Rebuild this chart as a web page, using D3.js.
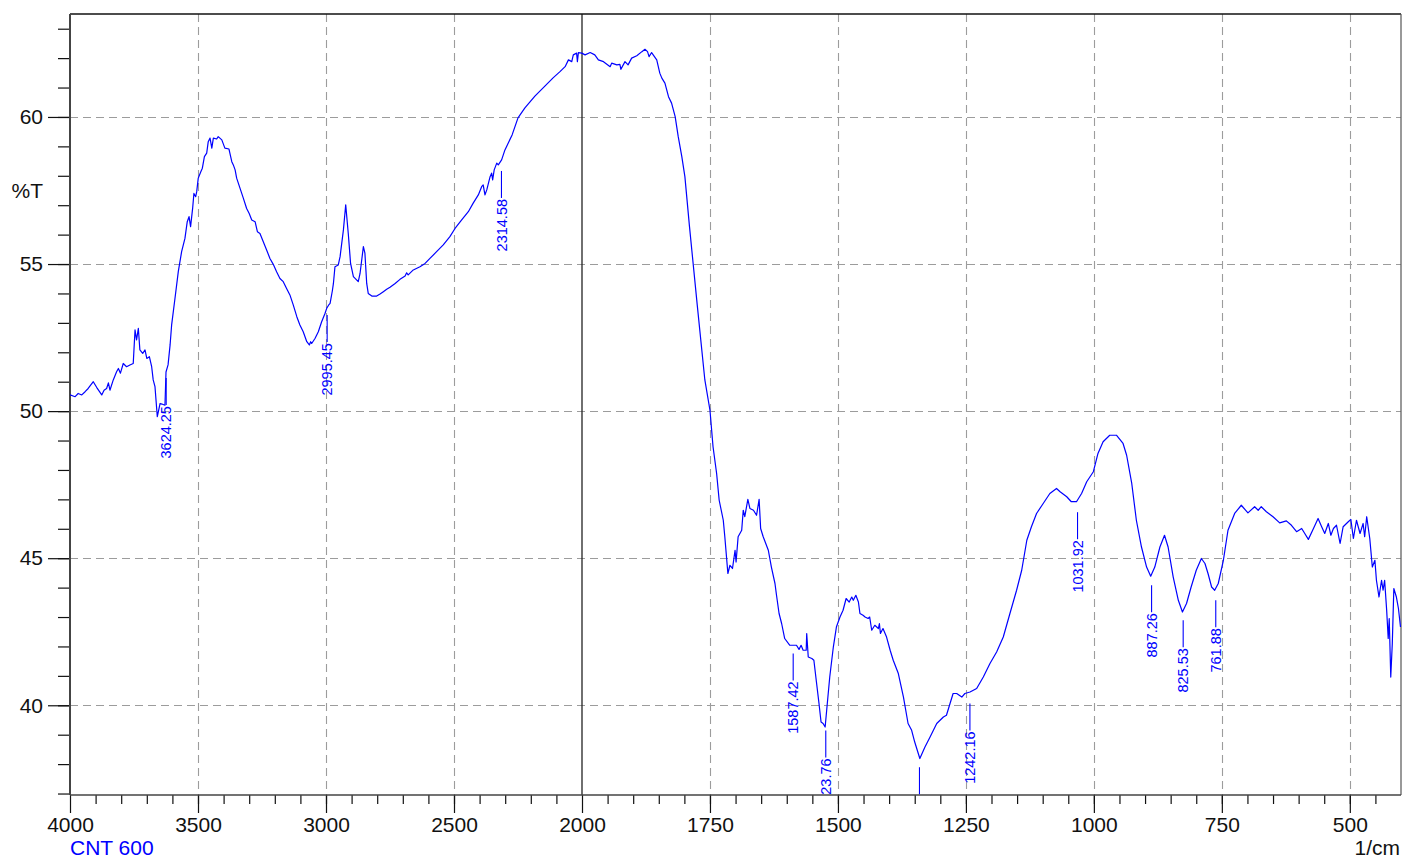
<!DOCTYPE html>
<html>
<head>
<meta charset="utf-8">
<script src="https://cdn.jsdelivr.net/npm/d3@7/dist/d3.min.js"></script>
<style>
  body { margin: 0; background: #fff; }
  svg { display: block; }
  text { font-family: "Liberation Sans", Arial, sans-serif; }
</style>
</head>
<body>
<svg id="chart" width="1402" height="858"></svg>
<script>
// FTIR spectrum of sample CNT 600 as [wavenumber (1/cm), transmittance (%T)] pairs
const spectrumHigh = [ // 4000 - 2000 1/cm
  [4000, 50.55], [3980, 50.49], [3968, 50.60], [3954, 50.55], [3941, 50.66], [3929, 50.77], [3909, 51.00],
  [3896, 50.81], [3876, 50.55], [3867, 50.71], [3857, 50.77], [3850, 50.96], [3844, 50.71], [3831, 51.06],
  [3818, 51.34], [3811, 51.45], [3803, 51.29], [3792, 51.62], [3779, 51.51], [3766, 51.57], [3753, 51.62],
  [3746, 52.76], [3740, 52.42], [3733, 52.81], [3727, 52.08], [3716, 51.96], [3707, 52.08], [3700, 51.79],
  [3690, 51.85], [3681, 51.51], [3675, 51.06], [3668, 50.83], [3659, 49.81], [3648, 50.26], [3641, 50.24],
  [3629, 50.20], [3625, 51.33], [3617, 51.57], [3609, 52.25], [3603, 52.93], [3590, 53.83], [3577, 54.74],
  [3564, 55.42], [3551, 55.87], [3542, 56.44], [3535, 56.61], [3529, 56.27], [3521, 56.89], [3516, 57.40],
  [3509, 57.29], [3505, 57.46], [3499, 57.92], [3489, 58.14], [3483, 58.26], [3475, 58.65], [3466, 58.77],
  [3460, 59.16], [3453, 59.28], [3446, 58.94], [3440, 59.28], [3427, 59.25], [3421, 59.33], [3407, 59.22],
  [3395, 58.94], [3379, 58.91], [3368, 58.48], [3362, 58.37], [3355, 58.20], [3349, 57.92], [3336, 57.58],
  [3323, 57.24], [3310, 56.89], [3300, 56.72], [3290, 56.50], [3277, 56.44], [3268, 56.10], [3258, 56.04],
  [3245, 55.76], [3232, 55.48], [3219, 55.19], [3206, 54.99], [3193, 54.74], [3180, 54.51], [3167, 54.40],
  [3154, 54.17], [3141, 53.95], [3128, 53.61], [3114, 53.21], [3102, 52.93], [3089, 52.70], [3075, 52.36],
  [3065, 52.25], [3060, 52.36], [3056, 52.30], [3043, 52.47], [3030, 52.70], [3017, 53.04], [3004, 53.32],
  [2997, 53.50], [2990, 53.60], [2984, 53.66], [2975, 54.10], [2971, 54.34], [2965, 54.91], [2952, 54.97],
  [2945, 55.25], [2932, 56.16], [2923, 57.01], [2913, 56.04], [2904, 55.02], [2893, 54.57], [2874, 54.40],
  [2867, 54.68], [2854, 55.59], [2848, 55.37], [2841, 54.34], [2835, 54.00], [2821, 53.91], [2802, 53.91],
  [2789, 53.98], [2776, 54.06], [2763, 54.14], [2750, 54.21], [2730, 54.34], [2711, 54.48], [2691, 54.59],
  [2685, 54.70], [2679, 54.63], [2659, 54.80], [2633, 54.91], [2613, 55.02], [2594, 55.19], [2568, 55.42],
  [2542, 55.65], [2516, 55.93], [2496, 56.21], [2470, 56.50], [2444, 56.78], [2425, 57.07], [2405, 57.35],
  [2392, 57.63], [2386, 57.69], [2379, 57.35], [2372, 57.52], [2359, 57.97], [2353, 58.09], [2349, 57.86],
  [2343, 58.20], [2333, 58.43], [2327, 58.37], [2314, 58.54], [2301, 58.88], [2273, 59.39], [2250, 59.97],
  [2223, 60.31], [2184, 60.71], [2145, 61.05], [2113, 61.33], [2086, 61.54], [2066, 61.71], [2053, 61.94],
  [2040, 61.88], [2034, 62.11], [2021, 62.17], [2018, 61.88], [2014, 62.19], [2001, 62.17]
];
const spectrumMid = [ // 2000 - 1000 1/cm
  [1994, 62.11], [1984, 62.19], [1975, 62.11], [1968, 61.94], [1958, 61.88], [1945, 61.71], [1942, 61.83],
  [1932, 61.77], [1926, 61.79], [1924, 61.62], [1916, 61.88], [1910, 61.77], [1903, 62.00], [1893, 62.08],
  [1883, 62.22], [1877, 62.30], [1872, 62.22], [1869, 62.05], [1864, 62.19], [1854, 61.94], [1848, 61.49],
  [1844, 61.32], [1838, 61.15], [1831, 60.69], [1825, 60.47], [1818, 60.01], [1812, 59.33], [1805, 58.65],
  [1799, 57.97], [1790, 56.27], [1775, 53.63], [1760, 51.06], [1750, 50.03], [1744, 48.79], [1737, 47.88],
  [1732, 46.97], [1724, 46.29], [1721, 45.73], [1715, 44.48], [1711, 44.76], [1706, 44.65], [1701, 45.27],
  [1699, 44.87], [1695, 45.73], [1688, 45.95], [1685, 46.63], [1682, 46.41], [1676, 47.00], [1672, 46.69],
  [1665, 46.63], [1659, 46.46], [1654, 47.00], [1651, 46.01], [1646, 45.73], [1636, 45.27], [1630, 44.70],
  [1623, 44.14], [1620, 43.74], [1615, 43.12], [1610, 42.78], [1604, 42.27], [1594, 42.04], [1581, 42.04],
  [1576, 41.90], [1572, 42.04], [1568, 41.87], [1562, 41.87], [1561, 42.44], [1558, 41.64], [1551, 41.59],
  [1547, 41.53], [1542, 40.79], [1537, 40.06], [1533, 39.43], [1529, 39.38], [1525, 39.26], [1522, 39.83],
  [1516, 40.96], [1509, 41.98], [1503, 42.66], [1496, 43.00], [1490, 43.23], [1484, 43.63], [1478, 43.51],
  [1473, 43.68], [1470, 43.57], [1465, 43.74], [1460, 43.51], [1457, 43.12], [1451, 43.06], [1447, 43.00],
  [1441, 42.95], [1438, 43.00], [1434, 42.55], [1428, 42.72], [1421, 42.61], [1419, 42.78], [1417, 42.44],
  [1412, 42.61], [1405, 42.32], [1398, 41.87], [1392, 41.53], [1382, 41.08], [1372, 40.28], [1363, 39.38],
  [1356, 39.15], [1350, 38.75], [1340, 38.19], [1330, 38.58], [1320, 38.92], [1307, 39.38], [1294, 39.60],
  [1288, 39.66], [1281, 40.06], [1275, 40.40], [1268, 40.40], [1258, 40.28], [1252, 40.40], [1242, 40.45],
  [1229, 40.57], [1216, 40.96], [1203, 41.42], [1190, 41.81], [1177, 42.32], [1164, 43.12], [1151, 43.91],
  [1141, 44.59], [1131, 45.61], [1122, 46.07], [1112, 46.52], [1099, 46.86], [1086, 47.20], [1073, 47.37],
  [1066, 47.26], [1053, 47.09], [1044, 46.92], [1034, 46.92], [1024, 47.20], [1014, 47.60], [1001, 47.94]
];
const spectrumLow = [ // 1000 - 400 1/cm
  [992, 48.56], [982, 48.96], [969, 49.18], [956, 49.18], [943, 48.90], [936, 48.50], [926, 47.54],
  [917, 46.29], [907, 45.38], [897, 44.70], [889, 44.39], [881, 44.70], [871, 45.38], [862, 45.78],
  [855, 45.38], [845, 44.36], [835, 43.57], [827, 43.17], [819, 43.46], [810, 44.02], [800, 44.59],
  [790, 44.99], [783, 44.82], [777, 44.48], [770, 44.02], [764, 43.91], [757, 44.14], [747, 44.93],
  [738, 45.95], [725, 46.52], [712, 46.80], [699, 46.54], [686, 46.75], [679, 46.63], [673, 46.75],
  [663, 46.58], [650, 46.41], [637, 46.20], [624, 46.27], [614, 46.12], [604, 45.90], [594, 46.01],
  [588, 45.84], [581, 45.64], [571, 46.01], [562, 46.35], [555, 46.07], [549, 45.84], [542, 46.18],
  [537, 45.78], [532, 46.01], [526, 46.12], [519, 45.50], [513, 46.07], [503, 46.24], [498, 46.32],
  [493, 45.67], [487, 46.29], [480, 45.84], [474, 46.18], [471, 45.73], [467, 46.41], [461, 45.67],
  [456, 44.70], [451, 44.93], [448, 44.25], [443, 43.68], [438, 44.25], [435, 43.91], [432, 44.25],
  [428, 43.23], [425, 42.27], [423, 42.95], [420, 40.96], [417, 42.10], [414, 43.97], [409, 43.68],
  [405, 43.29], [401, 42.66]
];

// Picked peaks: position (1/cm) and the transmittance at the peak
const peakWavenumbers = [3624.25, 2995.45, 2314.58, 1587.42, 1523.76, 1340.71, 1242.16, 1031.92, 887.26, 825.53, 761.88];
const peakTransmittance = [51.43, 53.57, 58.47, 42.07, 39.45, 38.20, 40.37, 46.87, 44.39, 43.20, 43.88];

// Axis ticks
const xMajorTicks = [4000, 3500, 3000, 2500, 2000, 1750, 1500, 1250, 1000, 750, 500];
const xMinorTicks = d3.range(3900, 2000, -100).concat(d3.range(1950, 400, -50));
const yMajorTicks = [40, 45, 50, 55, 60];
const yMinorTicks = d3.range(37, 64, 1);

const sampleName = "CNT 600";
const xUnit = "1/cm";
const yUnit = "%T";

const plot = { left: 70, right: 1401, top: 14, bottom: 795 };
const svg = d3.select("#chart");

// The wavenumber axis is expanded by a factor of two below 2000 1/cm
const x = d3.scaleLinear().domain([4000, 2000, 400]).range([plot.left, 582, plot.right]);
const y = d3.scaleLinear().domain([36.95, 63.5]).range([plot.bottom, plot.top]);

svg.append("defs").append("clipPath").attr("id", "plot-clip")
  .append("rect")
  .attr("x", plot.left).attr("y", plot.top)
  .attr("width", plot.right - plot.left).attr("height", plot.bottom - plot.top);

// Dashed grid
const grid = svg.append("g").attr("stroke", "#9c9c9c").attr("stroke-width", 1.1)
  .attr("stroke-dasharray", "8,5");
grid.selectAll("line.gx").data(xMajorTicks.filter(d => d !== 4000 && d !== 2000))
  .join("line").attr("class", "gx")
  .attr("x1", d => Math.round(x(d)) + 0.5).attr("x2", d => Math.round(x(d)) + 0.5)
  .attr("y1", plot.top).attr("y2", plot.bottom);
grid.selectAll("line.gy").data(yMajorTicks)
  .join("line").attr("class", "gy")
  .attr("x1", plot.left).attr("x2", plot.right)
  .attr("y1", d => Math.round(y(d)) + 0.5).attr("y2", d => Math.round(y(d)) + 0.5);

// Solid divider where the scale changes
svg.append("line")
  .attr("x1", x(2000)).attr("x2", x(2000))
  .attr("y1", plot.top).attr("y2", plot.bottom)
  .attr("stroke", "#222").attr("stroke-width", 1.3);

// Frame
svg.append("line").attr("x1", plot.left).attr("x2", plot.right)
  .attr("y1", plot.top).attr("y2", plot.top).attr("stroke", "#111").attr("stroke-width", 1.5);
svg.append("line").attr("x1", plot.right).attr("x2", plot.right)
  .attr("y1", plot.top).attr("y2", plot.bottom).attr("stroke", "#555").attr("stroke-width", 1.2);

// Axes
function styleAxis(g) {
  g.select(".domain").remove();
  g.selectAll(".tick line").attr("stroke", "#111").attr("stroke-width", 1.2);
  g.selectAll(".tick text").attr("fill", "#111").style("font-size", "21px")
    .style("font-family", '"Liberation Sans", Arial, sans-serif');
}

svg.append("g").attr("transform", `translate(0,${plot.bottom})`)
  .call(d3.axisBottom(x).tickValues(xMinorTicks).tickSize(9).tickFormat(""))
  .call(styleAxis);
svg.append("g").attr("transform", `translate(0,${plot.bottom})`)
  .call(d3.axisBottom(x).tickValues(xMajorTicks).tickSize(18).tickPadding(4).tickFormat(d3.format("d")))
  .call(styleAxis);

svg.append("g").attr("transform", `translate(${plot.left},0)`)
  .call(d3.axisLeft(y).tickValues(yMinorTicks).tickSize(12).tickFormat(""))
  .call(styleAxis);
svg.append("g").attr("transform", `translate(${plot.left},0)`)
  .call(d3.axisLeft(y).tickValues(yMajorTicks).tickSize(22).tickPadding(5).tickFormat(d3.format("d")))
  .call(styleAxis);

// Axis lines
svg.append("line").attr("x1", plot.left).attr("x2", plot.left)
  .attr("y1", plot.top).attr("y2", plot.bottom).attr("stroke", "#444").attr("stroke-width", 2);
svg.append("line").attr("x1", plot.left).attr("x2", plot.right)
  .attr("y1", plot.bottom).attr("y2", plot.bottom).attr("stroke", "#444").attr("stroke-width", 1.6);

// Spectrum
const spectrum = spectrumHigh.concat(spectrumMid, spectrumLow);
svg.append("path")
  .datum(spectrum)
  .attr("clip-path", "url(#plot-clip)")
  .attr("fill", "none")
  .attr("stroke", "#0000ff")
  .attr("stroke-width", 1.2)
  .attr("stroke-linejoin", "round")
  .attr("d", d3.line().x(d => x(d[0])).y(d => y(d[1])));

// Peak markers with vertical labels
const peaks = peakWavenumbers.map((w, i) => ({ w, t: peakTransmittance[i] }));
const markerGap = 9, markerLen = 27;
const pk = svg.append("g").attr("clip-path", "url(#plot-clip)");
pk.selectAll("line").data(peaks).join("line")
  .attr("x1", d => x(d.w)).attr("x2", d => x(d.w))
  .attr("y1", d => y(d.t) + markerGap).attr("y2", d => y(d.t) + markerGap + markerLen)
  .attr("stroke", "#0000ff").attr("stroke-width", 1.1);
pk.selectAll("text").data(peaks).join("text")
  .attr("transform", d => `translate(${x(d.w)},${y(d.t) + markerGap + markerLen + 1}) rotate(-90)`)
  .attr("text-anchor", "end")
  .attr("dy", "0.36em")
  .attr("fill", "#0000ff")
  .style("font-size", "14.5px")
  .text(d => d.w.toFixed(2));

// Labels
svg.append("text").attr("x", 43).attr("y", y(57.5)).attr("dy", "0.36em")
  .attr("text-anchor", "end").attr("fill", "#111").style("font-size", "21px").text(yUnit);
svg.append("text").attr("x", plot.left).attr("y", 855)
  .attr("fill", "#0000ff").style("font-size", "21px").text(sampleName);
svg.append("text").attr("x", plot.right - 1).attr("y", 855)
  .attr("text-anchor", "end").attr("fill", "#111").style("font-size", "21px").text(xUnit);
</script>
</body>
</html>
